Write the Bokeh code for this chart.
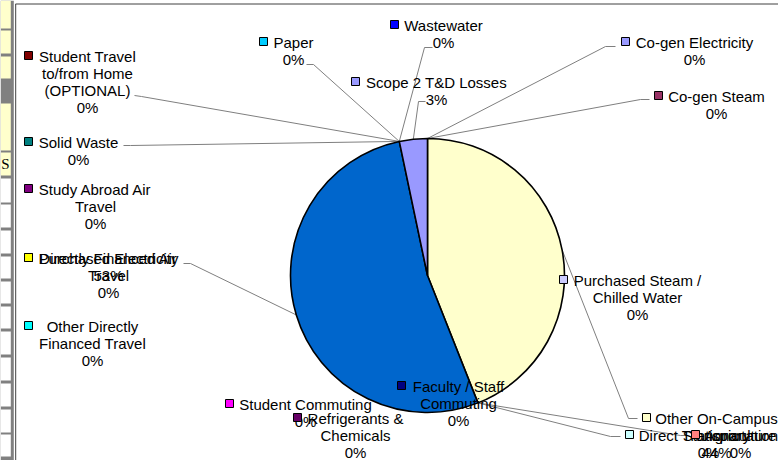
import math
from bokeh.plotting import figure
from bokeh.models import Range1d, ColumnDataSource
from bokeh.embed import file_html
from bokeh.resources import INLINE
from bokeh.core.properties import value

# ---------------- data ----------------
categories = [
    "Co-gen Electricity", "Co-gen Steam", "Other On-Campus Stationary",
    "Direct Transportation", "Refrigerants & Chemicals", "Agriculture",
    "Purchased Electricity", "Purchased Steam / Chilled Water",
    "Faculty / Staff Commuting", "Student Commuting",
    "Directly Financed Air Travel", "Other Directly Financed Travel",
    "Study Abroad Air Travel", "Student Travel to/from Home (OPTIONAL)",
    "Solid Waste", "Wastewater", "Paper", "Scope 2 T&D Losses",
]
shares = [0, 0, 44.0, 0, 0, 0, 52.7, 0, 0, 0, 0, 0, 0, 0, 0, 0, 0, 3.3]
colors = [
    "#9999FF", "#993366", "#FFFFCC", "#CCFFFF", "#660066", "#FF8080",
    "#0066CC", "#CCCCFF", "#000080", "#FF00FF", "#FFFF00", "#00FFFF",
    "#800080", "#800000", "#008080", "#0000FF", "#00CCFF", "#9999FF",
]

# ---------------- layout (reference pixel coordinates) ----------------
# words per wrapped line
wrap = [[2], [2], [2, 1], [2], [2, 1], [1], [2], [3, 2], [3, 1], [2],
        [3, 1], [2, 2], [3, 1], [2, 2, 1], [2], [1], [1], [4]]
# (text centre x, first line y, key x)
label_pos = [
    (694, 42, 625), (716, 96, 658), (716, 418, 646), (708, 435, 629),
    (355, 418, 297), (740, 435, 695), (108, 258, 28), (637, 280, 563),
    (458, 386, 401), (305, 404, 229), (108, 258, 28), (92, 326, 28),
    (95, 189, 28), (87, 56, 28), (78, 142, 28), (443, 25, 394),
    (293, 42, 263), (436, 82, 355),
]
# leader start / elbow points (None = no leader)
leaders = [
    ((615, 46), (605, 46)), ((649, 99), (640, 99)), ((637, 418), (628, 418)),
    ((620, 436), (610, 436)), None, ((688, 435), (680, 435)),
    ((183, 263), (190, 263)), None, None, None, None, None, None,
    ((134, 95), (141, 96)), ((123, 145), (130, 145)), ((432, 47), (424, 47)),
    ((306, 64), (313, 64)), ((425, 101), (418, 101)),
]
LINE_STEP = 17
CX, CY, R = 427, 275, 137
FONT = value("Liberation Sans")
FSIZE = "15px"

W, H = 778, 460
XR = (0, 778)
YR = (0, 460)
sx = W / (XR[1] - XR[0])
sy = H / (YR[1] - YR[0])

p = figure(width=W, height=H, x_range=Range1d(*XR), y_range=Range1d(-YR[1], -YR[0]),
           output_backend="svg", toolbar_location=None,
           x_axis_type=None, y_axis_type=None, min_border=0)
p.grid.visible = False
p.outline_line_color = None
p.background_fill_color = "white"
p.border_fill_color = "white"

# ---------------- spreadsheet edge decoration ----------------
p.quad(left=0, right=13.3, bottom=-YR[1], top=-YR[0], fill_color="#808080", line_color=None)
ycells = [(0, 28), (30, 53), (56, 78), (103, 150), (152, 175)]
wcells = [(178, 202), (204, 227), (230, 253), (256, 278), (281, 303), (306, 328),
          (331, 354), (357, 380), (383, 406), (409, 432), (434, 456)]
p.quad(left=0, right=10.3, top=[-a for a, b in ycells], bottom=[-b for a, b in ycells],
       fill_color="#FFFFCC", line_color=None)
p.quad(left=0, right=10.3, top=[-a for a, b in wcells], bottom=[-b for a, b in wcells],
       fill_color="white", line_color=None)
p.text(x=[5], y=[-163], text=["S"], text_font=value("Liberation Serif"), text_font_size="15px",
       text_color="black", text_align="center", text_baseline="middle")
p.segment(x0=[15.2, 15], y0=[-3.5, -3.5], x1=[15.2, 778], y1=[-460, -3.5],
          line_color="#404040", line_width=1)

# ---------------- pie geometry ----------------
total = sum(shares)
starts, ends = [], []
acc = 0.0
for s in shares:
    starts.append(acc / total)
    acc += s
    ends.append(acc / total)


def edge(frac):
    th = 2 * math.pi * frac
    return CX + (R / sx) * math.sin(th), -CY + (R / sy) * math.cos(th)


# leader lines
lx, ly = [], []
for i, ld in enumerate(leaders):
    if ld is None:
        continue
    ex, ey = edge((starts[i] + ends[i]) / 2)
    (ax, ay), (bx, by) = ld
    lx.append([ax, bx, ex])
    ly.append([-ay, -by, ey])
p.multi_line(xs=lx, ys=ly, line_color="#7f7f7f", line_width=1)

# wedges (non-zero slices)
wsrc = ColumnDataSource(dict(
    start=[math.pi / 2 - 2 * math.pi * starts[i] for i in range(len(shares)) if shares[i] > 0],
    end=[math.pi / 2 - 2 * math.pi * ends[i] for i in range(len(shares)) if shares[i] > 0],
    color=[colors[i] for i in range(len(shares)) if shares[i] > 0],
))
p.wedge(x=CX, y=-CY, radius=R, radius_units="screen", start_angle="start", end_angle="end",
        direction="clock", fill_color="color", line_color="black", line_width=1.6, source=wsrc)

# ---------------- labels ----------------
tx, ty, tt = [], [], []
for i, name in enumerate(categories):
    words = name.split(" ")
    lines = []
    k = 0
    for n in wrap[i]:
        lines.append(" ".join(words[k:k + n]))
        k += n
    lines.append(f"{round(shares[i])}%")
    cx, y1, kx = label_pos[i]
    for j, ln in enumerate(lines):
        tx.append(cx)
        ty.append(-(y1 + LINE_STEP * j))
        tt.append(ln)
p.text(x=tx, y=ty, text=tt, text_font=FONT, text_font_size=FSIZE, text_color="black",
       text_align="center", text_baseline="middle")

p.scatter(x=[lp[2] for lp in label_pos], y=[-(lp[1] - 1) for lp in label_pos], marker="square",
          size=8, fill_color=colors, line_color="black", line_width=1)

open("out.html", "w").write(file_html(p, INLINE))
